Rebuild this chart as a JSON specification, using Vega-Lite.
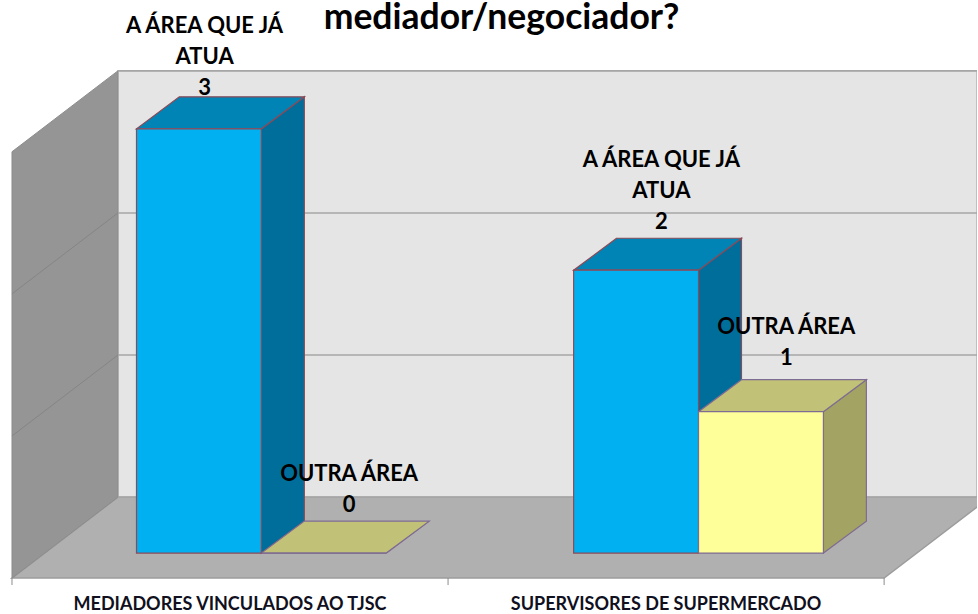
{
"$schema":"https://vega.github.io/schema/vega-lite/v6.json",
"width":978,"height":614,"padding":0,
"autosize":{"type":"fit","contains":"padding"},
"background":"white",
"config":{"view":{"stroke":null}},
"resolve":{"scale":{"fill":"independent"}},
"datasets":{
"bars":[
{"category":"MEDIADORES VINCULADOS AO TJSC","series":"A ÁREA QUE JÁ ATUA","count":3},
{"category":"MEDIADORES VINCULADOS AO TJSC","series":"OUTRA ÁREA","count":0},
{"category":"SUPERVISORES DE SUPERMERCADO","series":"A ÁREA QUE JÁ ATUA","count":2},
{"category":"SUPERVISORES DE SUPERMERCADO","series":"OUTRA ÁREA","count":1}],
"depths":[{"depth":0},{"depth":1}],
"grid":[{"t":0},{"t":1},{"t":2},{"t":3}],
"cats":[{"i":0},{"i":1},{"i":2}],
"names":[{"i":0,"category":"MEDIADORES VINCULADOS AO TJSC"},{"i":1,"category":"SUPERVISORES DE SUPERMERCADO"}],
"heading":[{"title":"mediador/negociador?"}]
},
"data":{"name":"bars"},
"transform":[
{"calculate":"datum.category=='MEDIADORES VINCULADOS AO TJSC'?0:1","as":"ci"},
{"calculate":"datum.series=='OUTRA ÁREA'?1:0","as":"si"},
{"calculate":"datum.ci*1.0025+0.2855+datum.si*0.2864","as":"xL"},
{"calculate":"datum.xL+0.2864","as":"xR"},
{"calculate":"datum.ci+'-'+datum.si","as":"id"},
{"calculate":"0","as":"d0"},{"calculate":"1","as":"d1"},
{"fold":["d0","d1"],"as":["k","p"]},
{"calculate":"datum.xL+datum.p*0.0985","as":"sxL"},
{"calculate":"datum.xR+datum.p*0.0985","as":"sxR"},
{"calculate":"datum.count+datum.p*0.226","as":"syT"},
{"calculate":"datum.p*0.226","as":"syB"}
],
"layer":[
{"data":{"name":"depths"},
 "transform":[{"filter":"datum.depth==1"},{"calculate":"0.2428","as":"a"},{"calculate":"2.213","as":"b"},{"calculate":"0.3953","as":"lo"},{"calculate":"3.409","as":"hi"}],
 "mark":{"type":"rect","fill":"#E5E5E5","stroke":"#B4B4B4","strokeWidth":1.5,"clip":true},
 "encoding":{"x":{"field":"a","type":"quantitative","axis":null,"scale":{"domain":[-0.0275,2.213],"nice":false,"zero":false}},"x2":{"field":"b"},
 "y":{"field":"lo","type":"quantitative","axis":null,"scale":{"domain":[-0.4306,3.9034],"nice":false,"zero":false}},"y2":{"field":"hi"}}},
{"data":{"name":"depths"},
 "transform":[{"calculate":"0.2428*datum.depth","as":"a"},{"calculate":"2+0.2428*datum.depth","as":"b"},{"calculate":"-0.1765+0.5718*datum.depth","as":"yy"}],
 "mark":{"type":"area","orient":"horizontal","fill":"#B0B0B0","stroke":"#9C9C9C","strokeWidth":1.5,"clip":true},
 "encoding":{"x":{"field":"a","type":"quantitative","axis":null,"scale":{"domain":[-0.0275,2.213],"nice":false,"zero":false}},"x2":{"field":"b"},
 "y":{"field":"yy","type":"quantitative","axis":null,"scale":{"domain":[-0.4306,3.9034],"nice":false,"zero":false}}}},
{"data":{"name":"depths"},
 "transform":[{"calculate":"0.2428*datum.depth","as":"a"},{"calculate":"-0.1765+0.5718*datum.depth","as":"lo"},{"calculate":"datum.lo+3.014","as":"hi"}],
 "mark":{"type":"area","orient":"vertical","fill":"#959595","stroke":"#8C8C8C","strokeWidth":1},
 "encoding":{"x":{"field":"a","type":"quantitative","axis":null,"scale":{"domain":[-0.0275,2.213],"nice":false,"zero":false}},
 "y":{"field":"hi","type":"quantitative","axis":null,"scale":{"domain":[-0.4306,3.9034],"nice":false,"zero":false}},"y2":{"field":"lo"}}},
{"data":{"name":"grid"},
 "transform":[{"calculate":"0.2428","as":"a"},{"calculate":"2.213","as":"b"},{"calculate":"0.3953+1.0047*datum.t","as":"yy"}],
 "mark":{"type":"rule","stroke":"#A6A6A6","strokeWidth":1.5},
 "encoding":{"x":{"field":"a","type":"quantitative","axis":null,"scale":{"domain":[-0.0275,2.213],"nice":false,"zero":false}},"x2":{"field":"b"},
 "y":{"field":"yy","type":"quantitative","axis":null,"scale":{"domain":[-0.4306,3.9034],"nice":false,"zero":false}}}},
{"data":{"name":"grid"},
 "transform":[{"filter":"datum.t>0&&datum.t<3"},{"calculate":"0","as":"a"},{"calculate":"0.2428","as":"b"},{"calculate":"0.3953+1.0047*datum.t","as":"yb"},{"calculate":"datum.yb-0.5718","as":"ya"}],
 "mark":{"type":"rule","stroke":"#858585","strokeWidth":1},
 "encoding":{"x":{"field":"a","type":"quantitative","axis":null,"scale":{"domain":[-0.0275,2.213],"nice":false,"zero":false}},"x2":{"field":"b"},
 "y":{"field":"ya","type":"quantitative","axis":null,"scale":{"domain":[-0.4306,3.9034],"nice":false,"zero":false}},"y2":{"field":"yb"}}},
{"data":{"name":"cats"},
 "transform":[{"calculate":"-0.1765","as":"top"},{"calculate":"-0.226","as":"bot"}],
 "mark":{"type":"rule","stroke":"#8C8C8C","strokeWidth":1},
 "encoding":{"x":{"field":"i","type":"quantitative","axis":null,"scale":{"domain":[-0.0275,2.213],"nice":false,"zero":false}},
 "y":{"field":"top","type":"quantitative","axis":null,"scale":{"domain":[-0.4306,3.9034],"nice":false,"zero":false}},"y2":{"field":"bot"}}},
{"mark":{"type":"area","orient":"vertical","strokeWidth":1.2},
 "encoding":{"x":{"field":"sxR","type":"quantitative","axis":null,"scale":{"domain":[-0.0275,2.213],"nice":false,"zero":false}},
 "y":{"field":"syT","type":"quantitative","axis":null,"scale":{"domain":[-0.4306,3.9034],"nice":false,"zero":false}},"y2":{"field":"syB"},
 "detail":{"field":"id"},
 "fill":{"field":"series","type":"nominal","legend":null,"scale":{"domain":["A ÁREA QUE JÁ ATUA","OUTRA ÁREA"],"range":["#006E9B","#A3A363"]}},
 "stroke":{"field":"series","type":"nominal","legend":null,"scale":{"domain":["A ÁREA QUE JÁ ATUA","OUTRA ÁREA"],"range":["#8A4A58","#7F6C92"]}}}},
{"mark":{"type":"area","orient":"horizontal","strokeWidth":1.2},
 "encoding":{"x":{"field":"sxL","type":"quantitative","axis":null,"scale":{"domain":[-0.0275,2.213],"nice":false,"zero":false}},"x2":{"field":"sxR"},
 "y":{"field":"syT","type":"quantitative","axis":null,"scale":{"domain":[-0.4306,3.9034],"nice":false,"zero":false}},
 "detail":{"field":"id"},
 "fill":{"field":"series","type":"nominal","legend":null,"scale":{"domain":["A ÁREA QUE JÁ ATUA","OUTRA ÁREA"],"range":["#0084B6","#C1C177"]}},
 "stroke":{"field":"series","type":"nominal","legend":null,"scale":{"domain":["A ÁREA QUE JÁ ATUA","OUTRA ÁREA"],"range":["#8A4A58","#7F6C92"]}}}},
{"transform":[{"filter":"datum.p==0"},{"calculate":"0","as":"base"}],
 "mark":{"type":"rect","strokeWidth":1.2},
 "encoding":{"x":{"field":"xL","type":"quantitative","axis":null,"scale":{"domain":[-0.0275,2.213],"nice":false,"zero":false}},"x2":{"field":"xR"},
 "y":{"field":"count","type":"quantitative","axis":null,"scale":{"domain":[-0.4306,3.9034],"nice":false,"zero":false}},"y2":{"field":"base"},
 "fill":{"field":"series","type":"nominal","legend":null,"scale":{"domain":["A ÁREA QUE JÁ ATUA","OUTRA ÁREA"],"range":["#00B0F0","#FFFF99"]}},
 "stroke":{"field":"series","type":"nominal","legend":null,"scale":{"domain":["A ÁREA QUE JÁ ATUA","OUTRA ÁREA"],"range":["#8A4A58","#7F6C92"]}}}},
{"transform":[{"filter":"datum.p==0"},
 {"calculate":"replace(datum.series,' QUE JÁ ATUA',' QUE JÁ\\nATUA')+'\\n'+datum.count","as":"lbl"},
 {"calculate":"(datum.xL+datum.xR)/2+(datum.count==3?0.013:0.058)","as":"lx"},
 {"calculate":"datum.count+[0.56,0.60,0.778,0.724][datum.count]","as":"ly"}],
 "mark":{"type":"text","font":"Lato","fontWeight":"bold","fontSize":22,"lineBreak":"\n","lineHeight":31,"baseline":"middle","align":"center","color":"#000000"},
 "encoding":{"x":{"field":"lx","type":"quantitative","axis":null,"scale":{"domain":[-0.0275,2.213],"nice":false,"zero":false}},
 "y":{"field":"ly","type":"quantitative","axis":null,"scale":{"domain":[-0.4306,3.9034],"nice":false,"zero":false}},
 "text":{"field":"lbl"}}},
{"data":{"name":"names"},
 "transform":[{"calculate":"datum.i+0.5","as":"lx"},{"calculate":"-0.367","as":"ly"}],
 "mark":{"type":"text","font":"Lato","fontWeight":"bold","fontSize":18,"baseline":"middle","align":"center","color":"#101020"},
 "encoding":{"x":{"field":"lx","type":"quantitative","axis":null,"scale":{"domain":[-0.0275,2.213],"nice":false,"zero":false}},
 "y":{"field":"ly","type":"quantitative","axis":null,"scale":{"domain":[-0.4306,3.9034],"nice":false,"zero":false}},
 "text":{"field":"category"}}},
{"data":{"name":"heading"},
 "transform":[{"calculate":"1.1226","as":"lx"},{"calculate":"3.7058","as":"ly"}],
 "mark":{"type":"text","font":"Lato","fontWeight":"bold","fontSize":35.5,"baseline":"alphabetic","align":"center","color":"#000000"},
 "encoding":{"x":{"field":"lx","type":"quantitative","axis":null,"scale":{"domain":[-0.0275,2.213],"nice":false,"zero":false}},
 "y":{"field":"ly","type":"quantitative","axis":null,"scale":{"domain":[-0.4306,3.9034],"nice":false,"zero":false}},
 "text":{"field":"title"}}}
]
}
